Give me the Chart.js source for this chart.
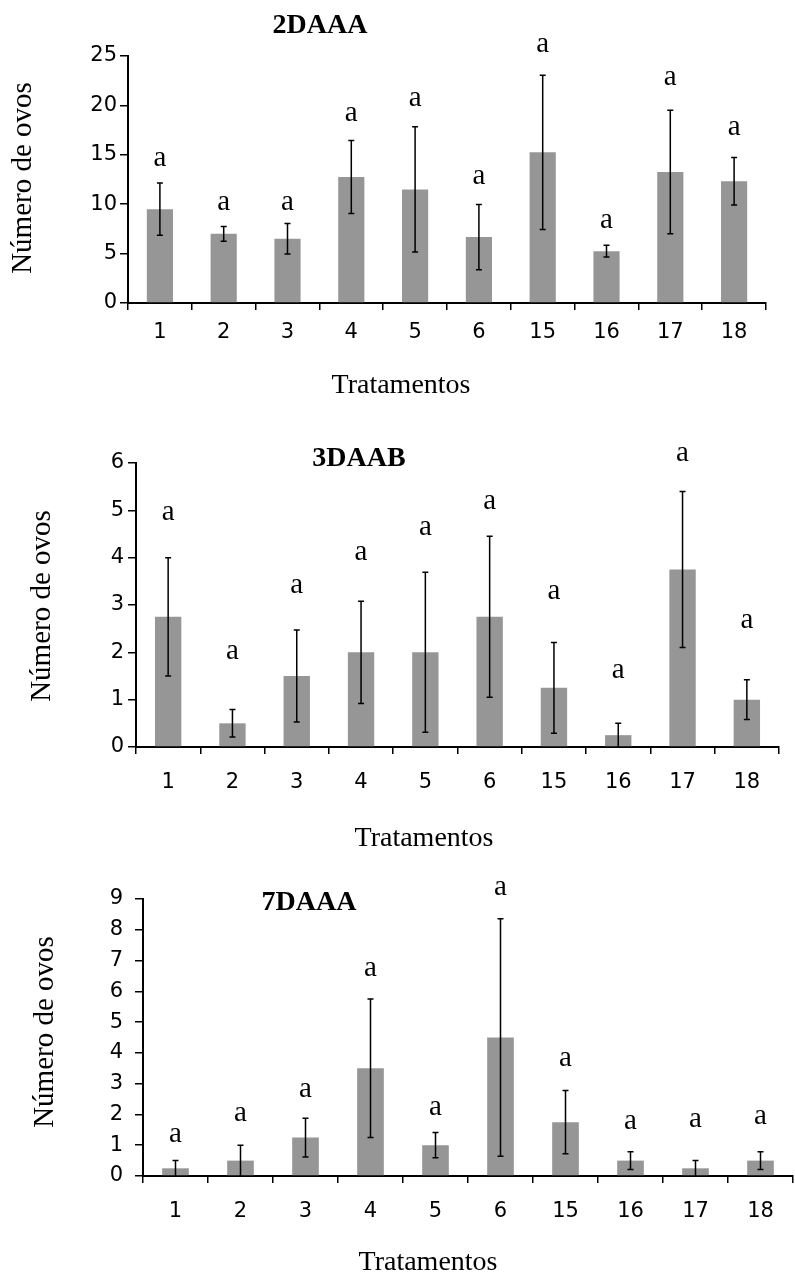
<!DOCTYPE html>
<html>
<head>
<meta charset="utf-8">
<script src="https://cdn.jsdelivr.net/npm/chart.js@4.4.0/dist/chart.umd.min.js"></script>
<style>
  html, body { margin: 0; padding: 0; background: #fff; width: 795px; height: 1274px; overflow: hidden; }
  canvas { position: absolute; left: 0; }
</style>
</head>
<body>
<canvas id="c1" width="795" height="402" style="top:0px"></canvas>
<canvas id="c2" width="795" height="453" style="top:402px"></canvas>
<canvas id="c3" width="795" height="425" style="top:855px"></canvas>
<script>
// Tratamentos (x categories)
const TRAT = ["1", "2", "3", "4", "5", "6", "15", "16", "17", "18"];

// 2DAAA — mean, error (+/-), height of the "a" letter (in data units)
const MEAN_2DAAA   = [9.5, 7.0, 6.5, 12.75, 11.5, 6.67, 15.25, 5.25, 13.25, 12.33];
const ERR_2DAAA    = [2.65, 0.75, 1.55, 3.7, 6.35, 3.3, 7.8, 0.6, 6.25, 2.4];
const LETTER_2DAAA = [14.6, 10.1, 10.1, 19.1, 20.6, 12.8, 26.1, 8.3, 22.8, 17.7];

// 3DAAB
const MEAN_3DAAB   = [2.75, 0.5, 1.5, 2.0, 2.0, 2.75, 1.25, 0.25, 3.75, 1.0];
const ERR_3DAAB    = [1.25, 0.29, 0.97, 1.08, 1.69, 1.7, 0.96, 0.25, 1.65, 0.42];
const LETTER_3DAAB = [4.95, 2.0, 3.4, 4.1, 4.62, 5.17, 3.28, 1.6, 6.18, 2.67];

// 7DAAA
const MEAN_7DAAA   = [0.25, 0.5, 1.25, 3.5, 1.0, 4.5, 1.75, 0.5, 0.25, 0.5];
const ERR_7DAAA    = [0.25, 0.5, 0.63, 2.25, 0.41, 3.86, 1.03, 0.29, 0.25, 0.29];
const LETTER_7DAAA = [1.33, 2.01, 2.79, 6.71, 2.2, 9.35, 3.79, 1.77, 1.82, 1.93];

const SIG = ["a", "a", "a", "a", "a", "a", "a", "a", "a", "a"];

const SERIF = "'Liberation Serif', 'Times New Roman', serif";
const SANS  = "'DejaVu Sans', Arial, sans-serif";

// error bars + "a" letters + free-placed titles
const extras = {
  id: "extras",
  afterDatasetsDraw(chart, args, o) {
    const { ctx } = chart;
    const x = chart.scales.x, y = chart.scales.y;
    ctx.save();
    ctx.strokeStyle = "#000";
    ctx.lineWidth = 1.5;
    o.mean.forEach((m, i) => {
      const cx = x.getPixelForValue(i);
      const hi = y.getPixelForValue(m + o.err[i]);
      const lo = y.getPixelForValue(Math.max(0, m - o.err[i]));
      ctx.beginPath();
      ctx.moveTo(cx, hi); ctx.lineTo(cx, lo);
      ctx.moveTo(cx - 3, hi); ctx.lineTo(cx + 3, hi);
      if (m - o.err[i] > 0) { ctx.moveTo(cx - 3, lo); ctx.lineTo(cx + 3, lo); }
      ctx.stroke();
    });

    ctx.fillStyle = "#000";
    ctx.textAlign = "center";
    ctx.textBaseline = "alphabetic";
    ctx.font = "29px " + SERIF;
    o.letterY.forEach((v, i) => {
      ctx.fillText(SIG[i], x.getPixelForValue(i), y.getPixelForValue(v) + 7);
    });

    ctx.textBaseline = "middle";
    ctx.font = "bold 28px " + SERIF;
    ctx.fillText(o.title, o.titlePos[0], o.titlePos[1]);
    ctx.font = "28px " + SERIF;
    ctx.fillText("Tratamentos", o.xLabelPos[0], o.xLabelPos[1]);
    ctx.translate(o.yLabelPos[0], o.yLabelPos[1]);
    ctx.rotate(-Math.PI / 2);
    ctx.font = "29px " + SERIF;
    ctx.fillText("Número de ovos", 0, 0);
    ctx.restore();
  },
};

function makeChart(id, c) {
  return new Chart(document.getElementById(id), {
    type: "bar",
    data: {
      labels: TRAT,
      datasets: [{
        data: c.mean,
        backgroundColor: "#969696",
        borderWidth: 0,
        barPercentage: 0.41,
        categoryPercentage: 1.0,
      }],
    },
    options: {
      responsive: false,
      animation: false,
      events: [],
      layout: { padding: { top: c.top, right: c.right, left: 0, bottom: 0 } },
      plugins: {
        legend: { display: false },
        tooltip: { enabled: false },
        extras: {
          mean: c.mean, err: c.err, letterY: c.letterY, title: c.title,
          titlePos: c.titlePos, xLabelPos: c.xLabelPos, yLabelPos: c.yLabelPos,
        },
      },
      scales: {
        x: {
          offset: true,
          grid: { offset: true, drawOnChartArea: false, color: "#000", lineWidth: 1.5, tickLength: 7 },
          border: { display: true, color: "#000", width: 2 },
          ticks: { color: "#000", font: { family: SANS, size: 21 }, padding: c.xPad, maxRotation: 0 },
          afterFit: (s) => { s.height = c.xHeight; },
        },
        y: {
          min: 0,
          max: c.max,
          ticks: { stepSize: c.step, color: "#000", font: { family: SANS, size: 21 }, padding: c.yPad },
          grid: { drawOnChartArea: false, color: "#000", lineWidth: 1.5, tickLength: 8 },
          border: { display: true, color: "#000", width: 2 },
          afterFit: (s) => { s.width = c.left; },
        },
      },
    },
    plugins: [extras],
  });
}

makeChart("c1", {
  mean: MEAN_2DAAA, err: ERR_2DAAA, letterY: LETTER_2DAAA, title: "2DAAA",
  max: 25, step: 5, top: 56, right: 29, left: 128, xHeight: 99, xPad: 10, yPad: 3,
  titlePos: [320, 26], xLabelPos: [401, 386], yLabelPos: [23, 178],
});

makeChart("c2", {
  mean: MEAN_3DAAB, err: ERR_3DAAB, letterY: LETTER_3DAAB, title: "3DAAB",
  max: 6, step: 1, top: 61, right: 16, left: 136, xHeight: 108, xPad: 16, yPad: 4,
  titlePos: [359, 57], xLabelPos: [424, 437], yLabelPos: [42, 204],
});

makeChart("c3", {
  mean: MEAN_7DAAA, err: ERR_7DAAA, letterY: LETTER_7DAAA, title: "7DAAA",
  max: 9, step: 1, top: 44, right: 2, left: 143, xHeight: 104, xPad: 16, yPad: 12,
  titlePos: [309, 48], xLabelPos: [428, 408], yLabelPos: [45, 177],
});
</script>
</body>
</html>
